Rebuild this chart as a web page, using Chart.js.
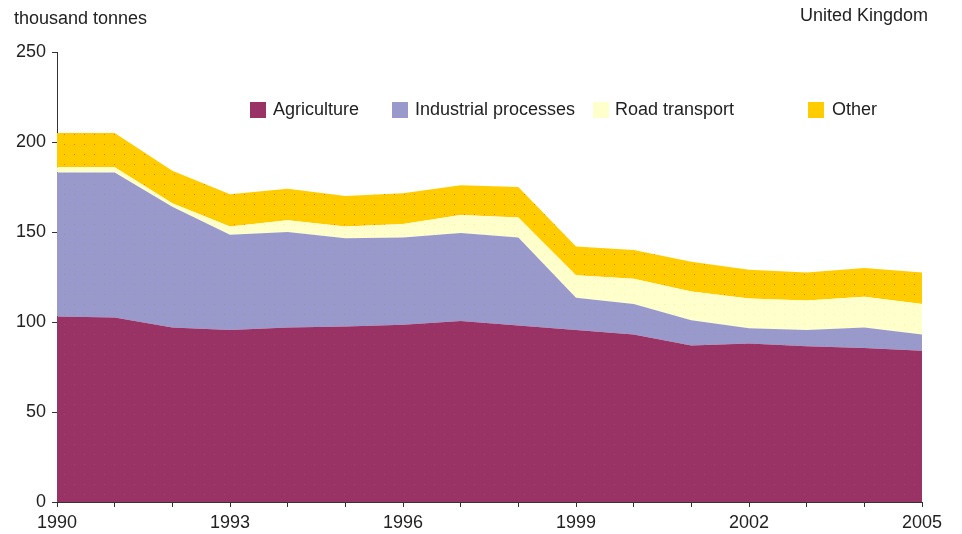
<!DOCTYPE html>
<html>
<head>
<meta charset="utf-8">
<script src="https://cdn.jsdelivr.net/npm/chart.js@4/dist/chart.umd.min.js"></script>
<style>
  body { margin: 0; background: #fff; }
  #wrap { position: relative; width: 962px; height: 534px; font-family: "Liberation Sans", Arial, sans-serif; color: #222; }
  canvas { position: absolute; left: 0; top: 0; }
  .txt { position: absolute; font-size: 18px; white-space: nowrap; }
  .box { position: absolute; width: 16px; height: 16px; }
</style>
</head>
<body>
<div id="wrap">
  <canvas id="stage" width="962" height="534"></canvas>
  <div class="txt" style="left:14px; top:8px;">thousand tonnes</div>
  <div class="txt" style="right:34px; top:5px;">United Kingdom</div>
  <div id="legend"></div>
</div>
<script>
// 年
const years = ['1990','1991','1992','1993','1994','1995','1996','1997','1998','1999','2000','2001','2002','2003','2004','2005'];
// 各系列 (thousand tonnes)
const agriculture = [103, 102.5, 97, 95.5, 97, 97.5, 98.5, 100.5, 98, 95.5, 93, 87, 88, 86.5, 85.5, 84];
const industrial  = [80, 80.5, 67, 53, 53, 49, 48.5, 49, 49, 18, 17, 14, 8.5, 9, 11.5, 9];
const road        = [3, 3, 2, 4.5, 6.5, 6.5, 7.5, 10, 11, 12.5, 14, 16, 16.5, 16.5, 17, 17];
const other       = [19, 19, 18, 18, 17.5, 17, 17, 16.5, 17, 16, 16, 16.5, 16, 15.5, 16, 17.5];
const yTicks = [0, 50, 100, 150, 200, 250];

// 点々の模様
function dots(bg, dot) {
  const c = document.createElement('canvas');
  c.width = 10; c.height = 10;
  const g = c.getContext('2d');
  g.fillStyle = bg; g.fillRect(0, 0, 10, 10);
  g.fillStyle = dot; g.fillRect(4, 4, 1, 1);
  return g.createPattern(c, 'repeat');
}
const ctx = document.getElementById('stage').getContext('2d');

const series = [
  { label: 'Agriculture', data: agriculture, bg: '#993366', dot: '#b0405a', x: 250, tx: 273 },
  { label: 'Industrial processes', data: industrial, bg: '#9999cc', dot: '#8c9a9c', x: 392, tx: 415 },
  { label: 'Road transport', data: road, bg: '#ffffcc', dot: '#f4f0a8', x: 593, tx: 615 },
  { label: 'Other', data: other, bg: '#ffcc00', dot: '#f07020', x: 808, tx: 832 }
];

// 凡例
const legend = document.getElementById('legend');
series.forEach(s => {
  legend.innerHTML += '<div class="box" style="left:' + s.x + 'px; top:102px; background:' + s.bg + ';"></div>' +
    '<div class="txt" style="left:' + s.tx + 'px; top:99px;">' + s.label + '</div>';
});

new Chart(ctx, {
  type: 'line',
  data: {
    labels: years,
    datasets: series.map((s, i) => ({
      label: s.label,
      data: s.data,
      backgroundColor: dots(s.bg, s.dot),
      borderWidth: 0,
      pointRadius: 0,
      tension: 0,
      fill: i === 0 ? 'origin' : '-1'
    }))
  },
  options: {
    responsive: false,
    animation: false,
    layout: { padding: { top: 52, right: 40, left: 0, bottom: 0 } },
    plugins: { legend: { display: false }, tooltip: { enabled: false } },
    scales: {
      x: {
        offset: false,
        border: { color: '#333', width: 1 },
        grid: { drawOnChartArea: false, tickLength: 5, color: '#333' },
        ticks: {
          autoSkip: false, maxRotation: 0, padding: 5, color: '#222',
          font: { family: '"Liberation Sans", Arial', size: 18 },
          callback: function (v, i) { return i % 3 === 0 ? years[i] : ''; }
        },
        afterFit: function (scale) { scale.height = 32; }
      },
      y: {
        stacked: true,
        min: 0, max: 250,
        afterBuildTicks: function (scale) { scale.ticks = yTicks.map(v => ({ value: v })); },
        border: { color: '#333', width: 1 },
        grid: { drawOnChartArea: false, tickLength: 5, color: '#333' },
        ticks: {
          padding: 6, color: '#222',
          font: { family: '"Liberation Sans", Arial', size: 18 }
        },
        afterFit: function (scale) { scale.width = 57; }
      }
    }
  }
});
</script>
</body>
</html>
